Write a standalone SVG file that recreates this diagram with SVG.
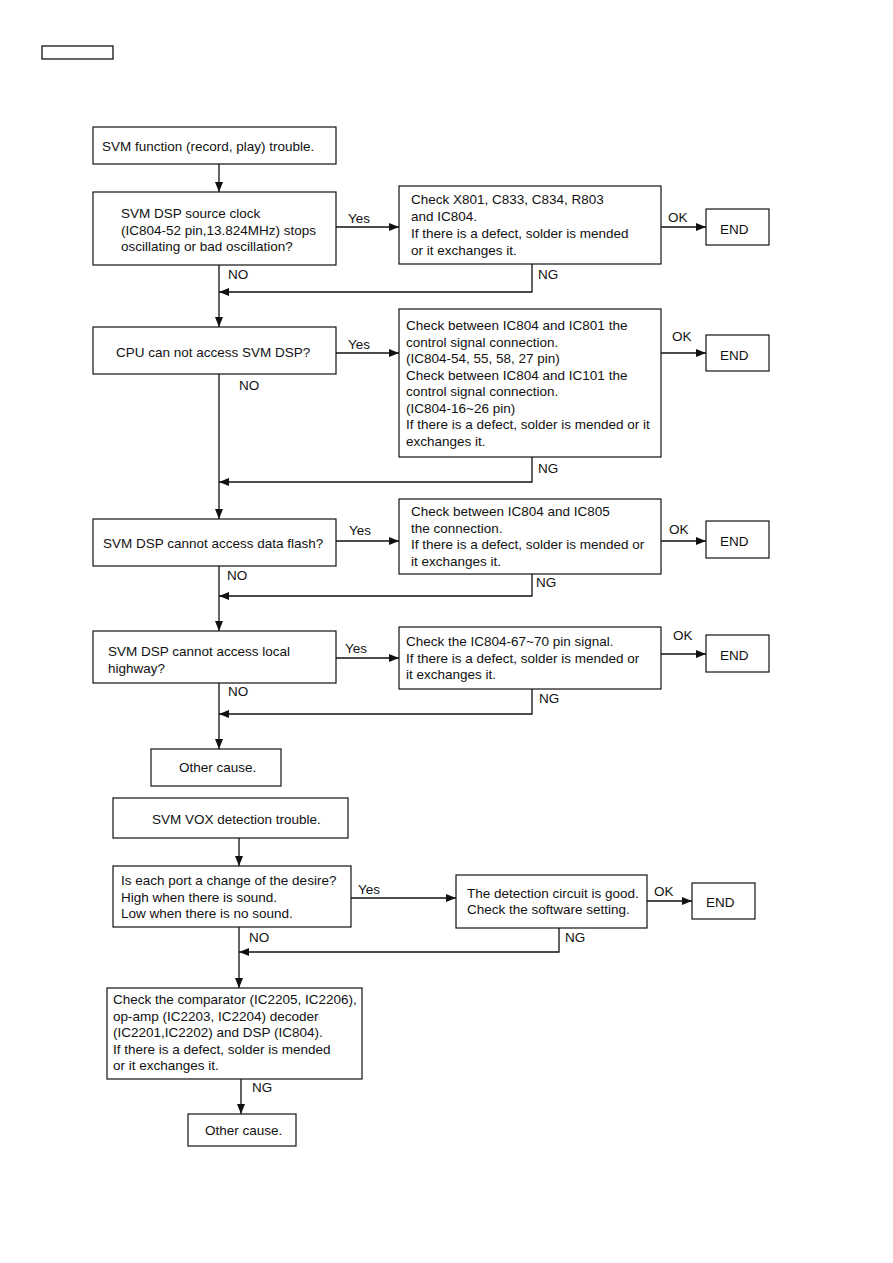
<svg xmlns="http://www.w3.org/2000/svg" width="893" height="1263" viewBox="0 0 893 1263">
<style>
.box{fill:#fff;stroke:#111;stroke-width:1.2}
.ln{fill:none;stroke:#111;stroke-width:1.3}
.arr{marker-end:url(#ah)}
text{font-family:"Liberation Sans",Arial,sans-serif;font-size:13.5px;fill:#111}
</style>
<defs>
<marker id="ah" markerUnits="userSpaceOnUse" markerWidth="11" markerHeight="9" refX="10" refY="4" orient="auto">
<path d="M0,0 L10,4 L0,8 z" fill="#111"/>
</marker>
</defs>
<rect x="42" y="46" width="71" height="13" fill="none" stroke="#111" stroke-width="1.3"/>

<g id="n1"><rect class="box" x="93" y="127" width="243" height="37"/><text x="102" y="151">SVM function (record, play) trouble.</text></g>
<g id="n2"><rect class="box" x="93" y="192" width="243" height="73"/><text x="121" y="218">SVM DSP source clock</text><text x="121" y="235">(IC804-52 pin,13.824MHz) stops</text><text x="121" y="251">oscillating or bad oscillation?</text></g>
<g id="n3"><rect class="box" x="399" y="186" width="262" height="78"/><text x="411" y="204">Check X801, C833, C834, R803</text><text x="411" y="221">and IC804.</text><text x="411" y="238">If there is a defect, solder is mended</text><text x="411" y="255">or it exchanges it.</text></g>
<g id="n4"><rect class="box" x="706" y="209" width="63" height="36"/><text x="720" y="234">END</text></g>

<g id="n5"><rect class="box" x="93" y="327" width="243" height="47"/><text x="116" y="357">CPU can not access SVM DSP?</text></g>
<g id="n6"><rect class="box" x="399" y="309" width="262" height="148"/><text x="406" y="330">Check between IC804 and IC801 the</text><text x="406" y="346.5">control signal connection.</text><text x="406" y="363">(IC804-54, 55, 58, 27 pin)</text><text x="406" y="379.5">Check between IC804 and IC101 the</text><text x="406" y="396">control signal connection.</text><text x="406" y="412.5">(IC804-16~26 pin)</text><text x="406" y="429">If there is a defect, solder is mended or it</text><text x="406" y="445.5">exchanges it.</text></g>
<g id="n7"><rect class="box" x="706" y="335" width="63" height="36"/><text x="720" y="360">END</text></g>

<g id="n8"><rect class="box" x="93" y="519" width="243" height="47"/><text x="103" y="548">SVM DSP cannot access data flash?</text></g>
<g id="n9"><rect class="box" x="399" y="499" width="262" height="75"/><text x="411" y="516">Check between IC804 and IC805</text><text x="411" y="532.5">the connection.</text><text x="411" y="549">If there is a defect, solder is mended or</text><text x="411" y="565.5">it exchanges it.</text></g>
<g id="n10"><rect class="box" x="706" y="521" width="63" height="37"/><text x="720" y="546">END</text></g>

<g id="n11"><rect class="box" x="93" y="631" width="243" height="52"/><text x="108" y="656">SVM DSP cannot access local</text><text x="108" y="672.5">highway?</text></g>
<g id="n12"><rect class="box" x="399" y="627" width="262" height="62"/><text x="406" y="646">Check the IC804-67~70 pin signal.</text><text x="406" y="662.5">If there is a defect, solder is mended or</text><text x="406" y="679">it exchanges it.</text></g>
<g id="n13"><rect class="box" x="706" y="635" width="63" height="37"/><text x="720" y="660">END</text></g>
<g id="n14"><rect class="box" x="151" y="749" width="130" height="37"/><text x="179" y="771.5">Other cause.</text></g>

<g id="n15"><rect class="box" x="113" y="798" width="235" height="40"/><text x="152" y="824">SVM VOX detection trouble.</text></g>
<g id="n16"><rect class="box" x="113" y="866" width="238" height="61"/><text x="121" y="885">Is each port a change of the desire?</text><text x="121" y="901.5">High when there is sound.</text><text x="121" y="918">Low when there is no sound.</text></g>
<g id="n17"><rect class="box" x="456" y="875" width="191" height="53"/><text x="467" y="897.5">The detection circuit is good.</text><text x="467" y="914">Check the software setting.</text></g>
<g id="n18"><rect class="box" x="692" y="883" width="63" height="36"/><text x="706" y="907">END</text></g>
<g id="n19"><rect class="box" x="107" y="988" width="255" height="91"/><text x="113" y="1004">Check the comparator (IC2205, IC2206),</text><text x="113" y="1020.5">op-amp (IC2203, IC2204) decoder</text><text x="113" y="1037">(IC2201,IC2202) and DSP (IC804).</text><text x="113" y="1053.5">If there is a defect, solder is mended</text><text x="113" y="1070">or it exchanges it.</text></g>
<g id="n20"><rect class="box" x="188" y="1114" width="108" height="32"/><text x="205" y="1135">Other cause.</text></g>

<g id="connectors">
<line class="ln arr" x1="219" y1="164" x2="219" y2="192"/>
<line class="ln arr" x1="336" y1="227" x2="399" y2="227"/>
<line class="ln arr" x1="661" y1="227" x2="706" y2="227"/>
<polyline class="ln arr" points="532,264 532,292 219,292"/>
<line class="ln arr" x1="219" y1="265" x2="219" y2="327"/>
<line class="ln arr" x1="336" y1="353" x2="399" y2="353"/>
<line class="ln arr" x1="661" y1="353" x2="706" y2="353"/>
<polyline class="ln arr" points="532,457 532,482 219,482"/>
<line class="ln arr" x1="219" y1="374" x2="219" y2="519"/>
<line class="ln arr" x1="336" y1="541" x2="399" y2="541"/>
<line class="ln arr" x1="661" y1="541" x2="706" y2="541"/>
<polyline class="ln arr" points="532,574 532,596 219,596"/>
<line class="ln arr" x1="219" y1="566" x2="219" y2="631"/>
<line class="ln arr" x1="336" y1="658" x2="399" y2="658"/>
<line class="ln arr" x1="661" y1="654" x2="706" y2="654"/>
<polyline class="ln arr" points="532,689 532,714 219,714"/>
<line class="ln arr" x1="219" y1="683" x2="219" y2="749"/>
<line class="ln arr" x1="239" y1="838" x2="239" y2="866"/>
<line class="ln arr" x1="351" y1="898" x2="456" y2="898"/>
<line class="ln arr" x1="647" y1="901" x2="692" y2="901"/>
<polyline class="ln arr" points="559,928 559,952 239,952"/>
<line class="ln arr" x1="239" y1="927" x2="239" y2="988"/>
<line class="ln arr" x1="241" y1="1079" x2="241" y2="1114"/>
<text x="348" y="223">Yes</text><text x="668" y="222">OK</text><text x="538" y="279">NG</text><text x="228" y="279">NO</text>
<text x="348" y="349">Yes</text><text x="672" y="341">OK</text><text x="538" y="473">NG</text><text x="239" y="390">NO</text>
<text x="349" y="535">Yes</text><text x="669" y="534">OK</text><text x="536" y="587">NG</text><text x="227" y="580">NO</text>
<text x="345" y="653">Yes</text><text x="673" y="640">OK</text><text x="539" y="703">NG</text><text x="228" y="696">NO</text>
<text x="358" y="894">Yes</text><text x="654" y="896">OK</text><text x="565" y="942">NG</text><text x="249" y="942">NO</text>
<text x="252" y="1092">NG</text>
</g>
</svg>
